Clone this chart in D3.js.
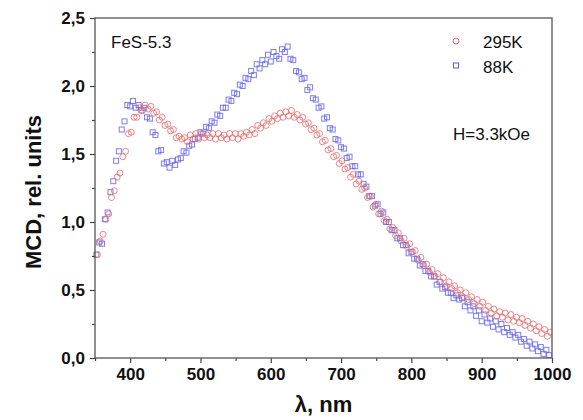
<!DOCTYPE html>
<html>
<head>
<meta charset="utf-8">
<script src="https://cdn.jsdelivr.net/npm/d3@7"></script>
<style>
  html, body { margin: 0; padding: 0; background: #fff; }
  svg { display: block; }
  text { font-family: "Liberation Sans", Arial, sans-serif; fill: #111; }
</style>
</head>
<body>
<svg id="chart" width="583" height="420"></svg>
<script>
// ---- data ----
const wavelengths = d3.range(352, 1000, 4); // nm, 352..996
const mcd295K = [
  0.76,0.86,0.91,1.02,1.06,1.18,1.23,1.33,1.36,1.48,
  1.52,1.65,1.66,1.77,1.77,1.84,1.82,1.86,1.83,1.85,
  1.80,1.81,1.75,1.77,1.71,1.72,1.67,1.68,1.62,1.63,
  1.61,1.62,1.59,1.64,1.61,1.65,1.61,1.65,1.62,1.64,
  1.62,1.65,1.61,1.65,1.62,1.64,1.61,1.65,1.62,1.65,
  1.61,1.65,1.63,1.66,1.64,1.68,1.65,1.71,1.69,1.73,
  1.71,1.76,1.74,1.78,1.76,1.80,1.77,1.81,1.78,1.82,
  1.77,1.79,1.75,1.77,1.72,1.73,1.68,1.69,1.64,1.65,
  1.59,1.60,1.53,1.54,1.48,1.49,1.43,1.45,1.39,1.40,
  1.33,1.35,1.28,1.30,1.24,1.25,1.18,1.19,1.11,1.13,
  1.06,1.08,1.01,1.02,0.95,0.96,0.90,0.92,0.86,0.88,
  0.82,0.84,0.78,0.79,0.72,0.74,0.68,0.69,0.63,0.65,
  0.60,0.62,0.56,0.59,0.53,0.56,0.51,0.53,0.48,0.50,
  0.45,0.48,0.43,0.45,0.40,0.43,0.38,0.41,0.35,0.38,
  0.33,0.36,0.31,0.34,0.30,0.33,0.28,0.32,0.27,0.30,
  0.26,0.29,0.24,0.27,0.22,0.25,0.20,0.23,0.18,0.21,
  0.16,0.19
];
const mcd88K = [
  0.76,0.85,0.84,1.02,1.07,1.22,1.30,1.45,1.52,1.68,
  1.74,1.86,1.85,1.89,1.84,1.86,1.82,1.84,1.77,1.76,
  1.66,1.64,1.52,1.53,1.43,1.44,1.40,1.45,1.42,1.46,
  1.47,1.52,1.51,1.56,1.57,1.61,1.62,1.66,1.65,1.70,
  1.69,1.74,1.73,1.79,1.78,1.84,1.84,1.90,1.89,1.95,
  1.94,2.01,2.00,2.06,2.05,2.11,2.08,2.16,2.13,2.19,
  2.16,2.23,2.18,2.25,2.22,2.20,2.27,2.25,2.29,2.20,
  2.19,2.11,2.10,2.05,2.06,1.97,1.99,1.91,1.90,1.84,
  1.85,1.76,1.77,1.69,1.68,1.61,1.60,1.55,1.54,1.47,
  1.48,1.41,1.41,1.35,1.35,1.28,1.26,1.19,1.19,1.12,
  1.13,1.06,1.07,1.00,1.00,0.94,0.94,0.88,0.88,0.83,
  0.83,0.77,0.78,0.73,0.73,0.68,0.69,0.64,0.64,0.60,
  0.60,0.54,0.56,0.51,0.52,0.48,0.48,0.44,0.46,0.43,
  0.44,0.38,0.41,0.35,0.38,0.31,0.35,0.27,0.32,0.26,
  0.29,0.23,0.27,0.21,0.25,0.19,0.22,0.17,0.19,0.15,
  0.17,0.12,0.14,0.09,0.12,0.07,0.10,0.05,0.08,0.03,
  0.06,0.02
];
const xTicks = [400, 500, 600, 700, 800, 900, 1000];
const xMinorTicks = [350, 450, 550, 650, 750, 850, 950];
const yTicks = [0, 0.5, 1.0, 1.5, 2.0, 2.5];
const yMinorTicks = [0.25, 0.75, 1.25, 1.75, 2.25];
const seriesNames = ["295K", "88K"];

// ---- layout ----
const svg = d3.select("#chart");
const L = 95, R = 552, T = 18, B = 358;
const x = d3.scaleLinear().domain([350, 1000]).range([L, R]);
const y = d3.scaleLinear().domain([0, 2.5]).range([B, T]);
const fmt = d => d3.format(".1f")(d).replace(".", ",");

const red = "#ee6666", blue = "#5c5cee";

svg.append("clipPath").attr("id", "clip").append("rect")
  .attr("x", L - 4).attr("y", T).attr("width", R - L + 4).attr("height", B - T);

const pts = svg.append("g").attr("clip-path", "url(#clip)");

// 88K squares
pts.selectAll("rect.b").data(wavelengths.map((w, i) => [w, mcd88K[i]]))
  .join("rect").attr("class", "b")
  .attr("x", d => x(d[0]) - 2.5).attr("y", d => y(d[1]) - 2.5)
  .attr("width", 5).attr("height", 5)
  .attr("fill", "none").attr("stroke", blue).attr("stroke-width", 1).attr("opacity", 0.8);

// 295K circles
pts.selectAll("circle.r").data(wavelengths.map((w, i) => [w + 1.5, mcd295K[i]]))
  .join("circle").attr("class", "r")
  .attr("cx", d => x(d[0])).attr("cy", d => y(d[1])).attr("r", 3)
  .attr("fill", "none").attr("stroke", red).attr("stroke-width", 1).attr("opacity", 0.8);

// axes
const xAxis = d3.axisBottom(x).tickValues(xTicks).tickSize(5).tickPadding(5).tickFormat(d3.format("d"));
const xMinor = d3.axisBottom(x).tickValues(xMinorTicks).tickSize(3).tickFormat("");
const yAxis = d3.axisLeft(y).tickValues(yTicks).tickSize(5).tickPadding(5).tickFormat(fmt);
const yMinor = d3.axisLeft(y).tickValues(yMinorTicks).tickSize(3).tickFormat("");

function styleAxis(g) {
  g.select(".domain").remove();
  g.selectAll("line").attr("stroke", "#444").attr("stroke-width", 1.2);
  g.selectAll("text").attr("font-size", 17).attr("font-weight", "bold")
    .attr("font-family", "'Liberation Sans', Arial, sans-serif").attr("fill", "#111");
}
svg.append("g").attr("transform", `translate(0,${B})`).call(xAxis).call(styleAxis);
svg.append("g").attr("transform", `translate(0,${B})`).call(xMinor).call(styleAxis);
svg.append("g").attr("transform", `translate(${L},0)`).call(yAxis).call(styleAxis);
svg.append("g").attr("transform", `translate(${L},0)`).call(yMinor).call(styleAxis);

// frame
svg.append("rect").attr("x", L).attr("y", T).attr("width", R - L).attr("height", B - T)
  .attr("fill", "none").attr("stroke", "#555").attr("stroke-width", 1.3);

// axis titles
svg.append("text").attr("x", (L + R) / 2).attr("y", 412).attr("text-anchor", "middle")
  .attr("font-size", 22).attr("font-weight", "bold").text("λ, nm");
svg.append("text").attr("transform", `translate(41,${(T + B) / 2 + 4}) rotate(-90)`)
  .attr("text-anchor", "middle").attr("font-size", 22).attr("font-weight", "bold")
  .text("MCD, rel. units");

// annotations
svg.append("text").attr("x", 111).attr("y", 48).attr("font-size", 17).text("FeS-5.3");
svg.append("text").attr("x", 453).attr("y", 140).attr("font-size", 17).text("H=3.3kOe");

// legend
const leg = svg.append("g");
leg.append("circle").attr("cx", 456).attr("cy", 41).attr("r", 3)
  .attr("fill", "none").attr("stroke", red).attr("stroke-width", 1);
leg.append("rect").attr("x", 453.5).attr("y", 63).attr("width", 5).attr("height", 5)
  .attr("fill", "none").attr("stroke", blue).attr("stroke-width", 1);
leg.append("text").attr("x", 483).attr("y", 48).attr("font-size", 17).text(seriesNames[0]);
leg.append("text").attr("x", 483).attr("y", 73).attr("font-size", 17).text(seriesNames[1]);
</script>
</body>
</html>
